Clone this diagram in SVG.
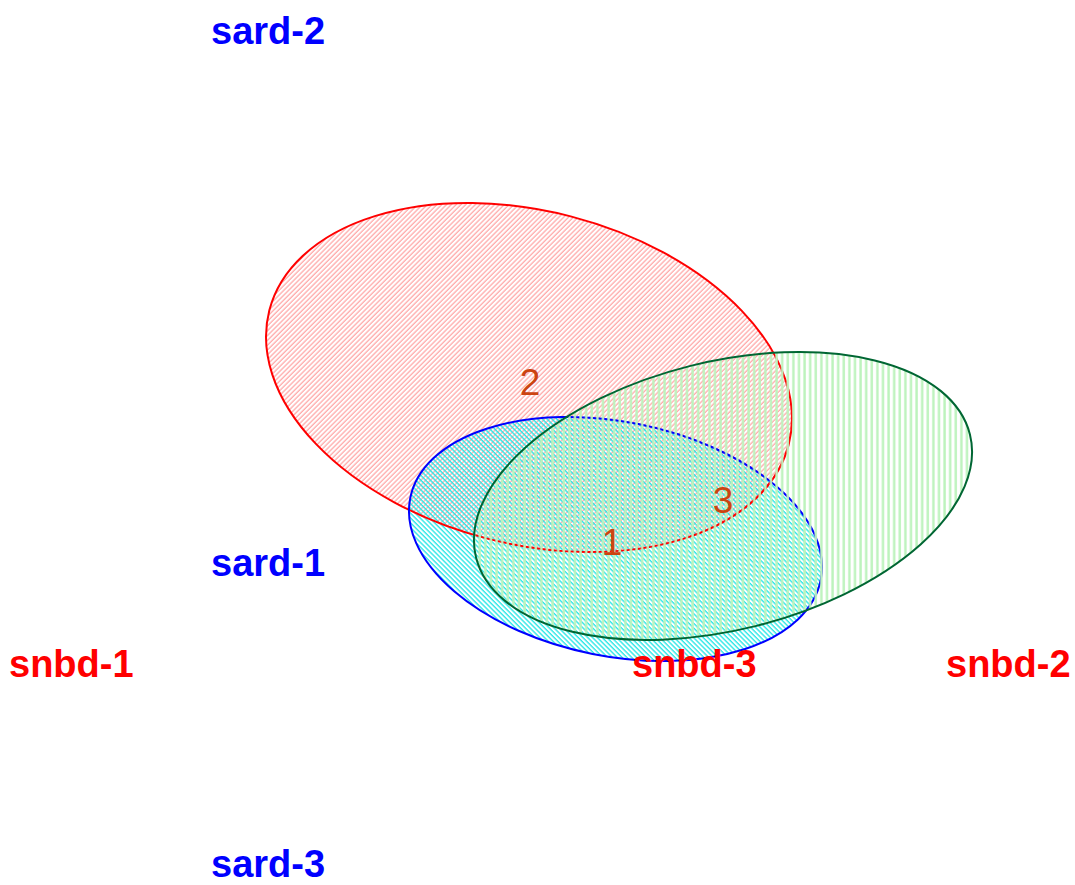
<svg xmlns="http://www.w3.org/2000/svg" width="1075" height="885" viewBox="0 0 1075 885">
<style>
.lbl{font-family:"Liberation Sans",Arial,sans-serif;font-weight:bold;font-size:38px}
.blue{fill:#0000ff}
.red{fill:#ff0000}
.num{font-family:"Liberation Sans",Arial,sans-serif;font-size:37px;fill:#cc4411;text-anchor:middle}
</style>
<defs>
<pattern id="pr" patternUnits="userSpaceOnUse" width="3.4" height="10" patternTransform="rotate(30.5)">
<line x1="1" y1="0" x2="1" y2="10" stroke="#ff9a9a" stroke-width="1.1"/>
</pattern>
<pattern id="pb" patternUnits="userSpaceOnUse" width="3.4" height="10" patternTransform="rotate(-56.3)">
<line x1="1" y1="0" x2="1" y2="10" stroke="#1ee6e6" stroke-width="1.3"/>
</pattern>
<pattern id="pg" patternUnits="userSpaceOnUse" width="5.6" height="10" patternTransform="rotate(14)">
<line x1="1.5" y1="0" x2="1.5" y2="10" stroke="#bdf3bd" stroke-width="2.4"/>
</pattern>
</defs>
<rect width="1075" height="885" fill="#ffffff"/>
<g id="sets">
<g id="set-red">
<ellipse cx="529" cy="377.5" rx="268.2" ry="166.4" transform="rotate(14.5 529 377.5)" fill="url(#pr)" stroke="none"/>
</g>
<g id="set-blue">
<ellipse cx="615.5" cy="539" rx="209.3" ry="117.2" transform="rotate(11.3 615.5 539)" fill="url(#pb)" stroke="none"/>
</g>
<ellipse cx="529" cy="377.5" rx="268.2" ry="166.4" transform="rotate(14.5 529 377.5)" fill="none" stroke="#ff0000" stroke-width="2"/>
<ellipse cx="615.5" cy="539" rx="209.3" ry="117.2" transform="rotate(11.3 615.5 539)" fill="none" stroke="#0000ff" stroke-width="2"/>
<g id="set-green">
<ellipse cx="723" cy="496" rx="254.5" ry="134.1" transform="rotate(-14 723 496)" fill="url(#pg)" stroke="#006633" stroke-width="2"/>
</g>
</g>
<g id="counts">
<text class="num" x="530" y="395">2</text>
<text class="num" x="723" y="513">3</text>
<text class="num" x="612" y="555">1</text>
</g>
<g id="labels">
<text class="lbl blue" x="211" y="44">sard-2</text>
<text class="lbl blue" x="211" y="576">sard-1</text>
<text class="lbl blue" x="211" y="877">sard-3</text>
<text class="lbl red" x="9" y="677">snbd-1</text>
<text class="lbl red" x="632" y="677">snbd-3</text>
<text class="lbl red" x="946" y="677">snbd-2</text>
</g>
</svg>
